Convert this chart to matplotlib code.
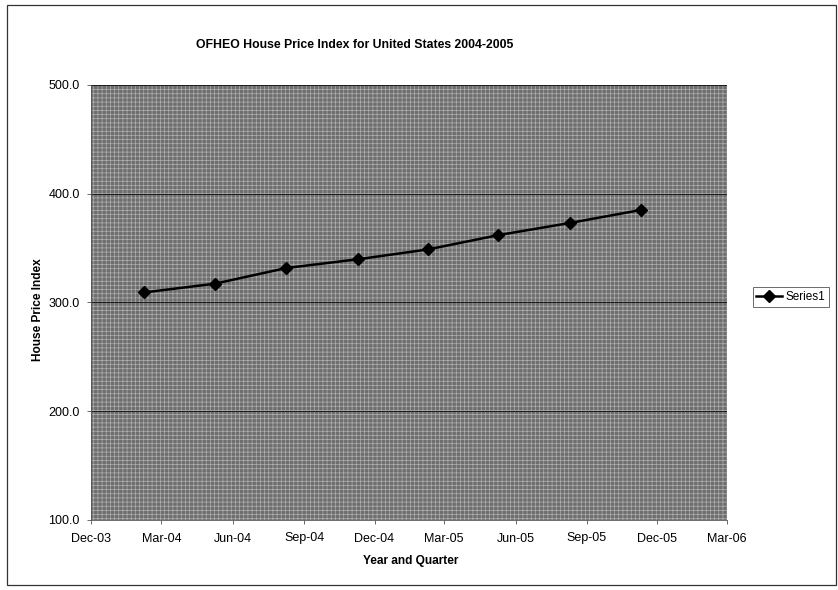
import numpy as np
import pandas as pd
import matplotlib
matplotlib.use("Agg")
from matplotlib import pyplot as plt
import matplotlib.dates as mdates
from matplotlib.patches import Rectangle

# quarterly index values
dates = ["2004-02-08", "2004-05-09", "2004-08-09", "2004-11-10",
         "2005-02-08", "2005-05-10", "2005-08-10", "2005-11-10"]
hpi = [309.3, 317.3, 331.7, 339.8, 348.8, 362.0, 373.1, 385.1]
series_name = "Series1"

tick_dates = pd.date_range("2003-12-01", "2006-03-01", freq="3MS")
y_ticks = [100, 200, 300, 400, 500]

plt.rcParams['font.family'] = ['Liberation Sans', 'DejaVu Sans']
plt.rcParams['hatch.linewidth'] = 0.5

W, H = 838, 590
fig = plt.figure(figsize=(W / 100, H / 100), dpi=100)
fig.patch.set_facecolor("white")

# chart area border
fig.add_artist(Rectangle((7 / W, 1 - 585 / H), 829 / W, 580 / H,
                         transform=fig.transFigure, fill=False,
                         edgecolor="#333333", linewidth=0.9))

ax = fig.add_axes([91 / W, 1 - 520 / H, 636 / W, 435 / H])
ax.set_facecolor("#6e6e6e")
# halftone-ish texture of the scanned plot area
ax.add_patch(Rectangle((0, 0), 1, 1, transform=ax.transAxes, fill=False,
                       hatch="++++", edgecolor="#b0b0b0", linewidth=0, zorder=0))

x = pd.to_datetime(dates)
ax.plot(x, hpi, color="black", linewidth=1.8, marker="D", markersize=6,
        label=series_name, zorder=3)

ax.set_ylim(100, 500)
ax.set_yticks(y_ticks)
ax.set_yticklabels(["{:.1f}".format(v) for v in y_ticks])
ax.yaxis.grid(True, color="#1a1a1a", linewidth=0.7)
ax.set_axisbelow(True)

ax.set_xlim(tick_dates[0], tick_dates[-1])
ax.set_xticks(tick_dates)
ax.xaxis.set_major_formatter(mdates.DateFormatter("%b-%y"))

for s in ax.spines.values():
    s.set_visible(False)
for side in ["left", "bottom"]:
    ax.spines[side].set_visible(True)
    ax.spines[side].set_color("#555555")
    ax.spines[side].set_linewidth(0.6)

ax.tick_params(axis="both", labelsize=9, length=3, width=0.6, color="#555555")
ax.tick_params(axis="x", pad=6)
ax.tick_params(axis="y", pad=5)

fig.text(355 / W, 1 - 45 / H, "OFHEO House Price Index for United States 2004-2005",
         ha="center", va="center", fontsize=8.8, fontweight="bold")
fig.text(411 / W, 1 - 561 / H, "Year and Quarter",
         ha="center", va="center", fontsize=8.6, fontweight="bold")
fig.text(38 / W, 1 - 310 / H, "House Price Index", rotation=90,
         ha="center", va="center", fontsize=8.6, fontweight="bold")

leg = fig.legend(loc="center", bbox_to_anchor=(791 / W, 1 - 297 / H),
                 fontsize=8.5, frameon=True, fancybox=False, handlelength=2.2,
                 borderpad=0.3, handletextpad=0.3, borderaxespad=0)
leg.get_frame().set_edgecolor("#444444")
leg.get_frame().set_linewidth(0.7)

fig.savefig("out.png", dpi=100)
